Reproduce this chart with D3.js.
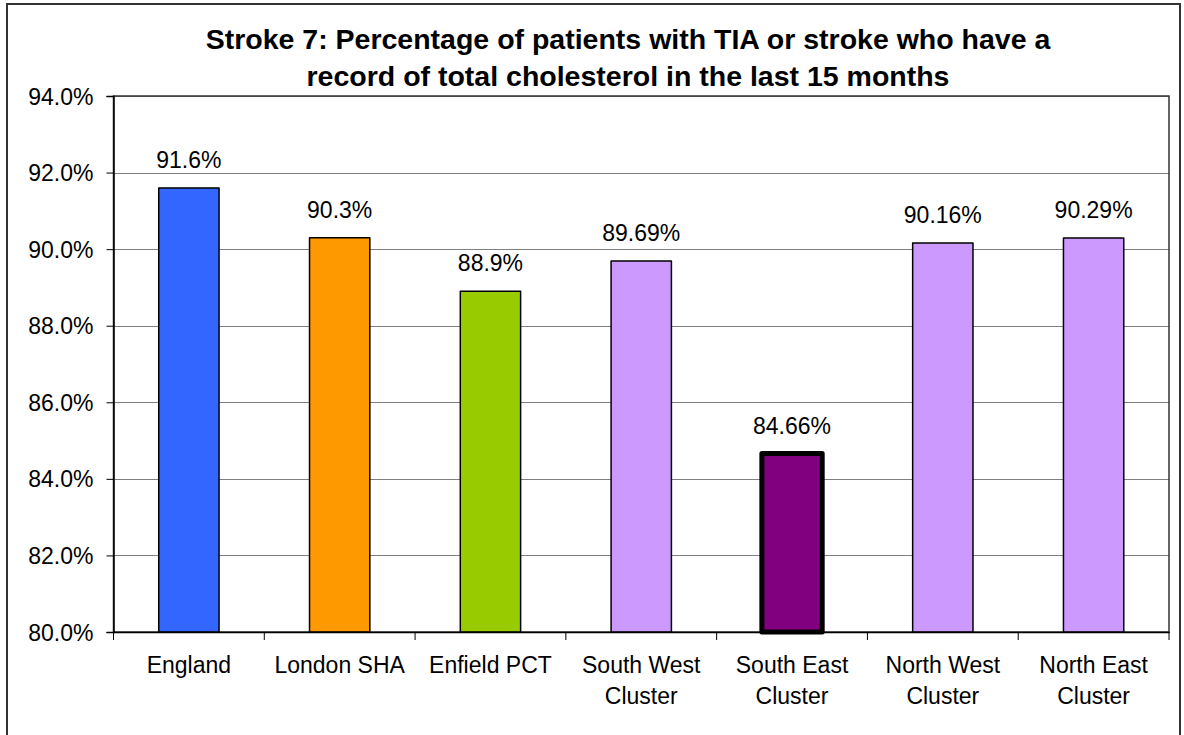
<!DOCTYPE html>
<html><head><meta charset="utf-8">
<script src="https://cdn.jsdelivr.net/npm/d3@7"></script>
<style>body{margin:0;background:#fff}svg{display:block;font-family:"Liberation Sans",Arial,sans-serif}</style>
</head><body><svg id="c" width="1184" height="735"></svg>
<script>
const categories = [["England"],["London SHA"],["Enfield PCT"],["South West","Cluster"],["South East","Cluster"],["North West","Cluster"],["North East","Cluster"]];
const values = [91.6, 90.3, 88.9, 89.69, 84.66, 90.16, 90.29];
const valueLabels = ["91.6%","90.3%","88.9%","89.69%","84.66%","90.16%","90.29%"];
const colors = ["#3366FF","#FF9900","#99CC00","#CC99FF","#800080","#CC99FF","#CC99FF"];
const yTicks = [80,82,84,86,88,90,92,94];
const titleLines = ["Stroke 7: Percentage of patients with TIA or stroke who have a","record of total cholesterol in the last 15 months"];

const svg = d3.select("#c");
const L = 113.5, R = 1169, T = 96, B = 632;
svg.append("rect").attr("x",7).attr("y",4).attr("width",1173).attr("height",760)
  .attr("fill","#fff").attr("stroke","#333").attr("stroke-width",2);

const x = d3.scaleBand().domain(d3.range(values.length)).range([L,R]).paddingInner(0.6).paddingOuter(0.3);
const xb = d3.scaleBand().domain(d3.range(values.length)).range([L,R]);
const y = d3.scaleLinear().domain([80,94]).range([B,T]);

// gridlines
svg.append("g").selectAll("line").data(yTicks.filter(d=>d>80)).join("line")
  .attr("x1",L).attr("x2",R).attr("y1",d=>Math.round(y(d))+0.5).attr("y2",d=>Math.round(y(d))+0.5)
  .attr("stroke","#808080").attr("stroke-width",1);
// plot border
svg.append("rect").attr("x",L).attr("y",T).attr("width",R-L).attr("height",B-T)
  .attr("fill","none").attr("stroke","#333").attr("stroke-width",1.5);

// bars
svg.append("g").selectAll("rect").data(values).join("rect")
  .attr("x",(d,i)=>x(i)).attr("width",x.bandwidth())
  .attr("y",d=>y(d)).attr("height",d=>B-y(d))
  .attr("fill",(d,i)=>colors[i])
  .attr("stroke","#000").attr("stroke-linejoin","round").attr("stroke-width",(d,i)=>i===4?5:1.5);

// value labels
svg.append("g").selectAll("text").data(values).join("text")
  .attr("x",(d,i)=>x(i)+x.bandwidth()/2).attr("y",d=>y(d)-20)
  .attr("text-anchor","middle").attr("font-size",23).attr("fill","#000")
  .text((d,i)=>valueLabels[i]);

// y axis
const ya = d3.axisLeft(y).tickValues(yTicks).tickSize(7).tickPadding(13).tickFormat(d=>d.toFixed(1)+"%");
const yg = svg.append("g").attr("transform",`translate(${L},0)`).call(ya);
yg.select(".domain").attr("stroke","#000").attr("stroke-width",1.5);
yg.selectAll(".tick line").attr("stroke","#000");
yg.selectAll(".tick text").attr("font-size",23).attr("font-family","Liberation Sans, Arial, sans-serif").attr("fill","#000").attr("dy","0.35em");

// x axis
const xa = d3.axisBottom(xb).tickSize(0).tickFormat("");
const xg = svg.append("g").attr("transform",`translate(0,${B})`).call(xa);
xg.select(".domain").attr("stroke","#000").attr("stroke-width",1.5);
xg.selectAll(".tick").remove();
svg.append("g").selectAll("line").data(d3.range(values.length+1)).join("line")
  .attr("x1",i=>L+i*xb.step()).attr("x2",i=>L+i*xb.step()).attr("y1",B).attr("y2",B+8)
  .attr("stroke","#000");
const cl = svg.append("g").selectAll("text").data(categories).join("text")
  .attr("x",(d,i)=>xb(i)+xb.bandwidth()/2).attr("y",673)
  .attr("text-anchor","middle").attr("font-size",23).attr("fill","#000");
cl.selectAll("tspan").data(d=>d).join("tspan")
  .attr("x",function(){return this.parentNode.getAttribute("x");})
  .attr("dy",(d,j)=>j===0?0:31).text(d=>d);

// title
svg.append("g").selectAll("text").data(titleLines).join("text")
  .attr("x",628).attr("y",(d,i)=>49+i*37).attr("text-anchor","middle")
  .attr("font-size",28.5).attr("font-weight","bold").attr("fill","#000").text(d=>d);
</script></body></html>
